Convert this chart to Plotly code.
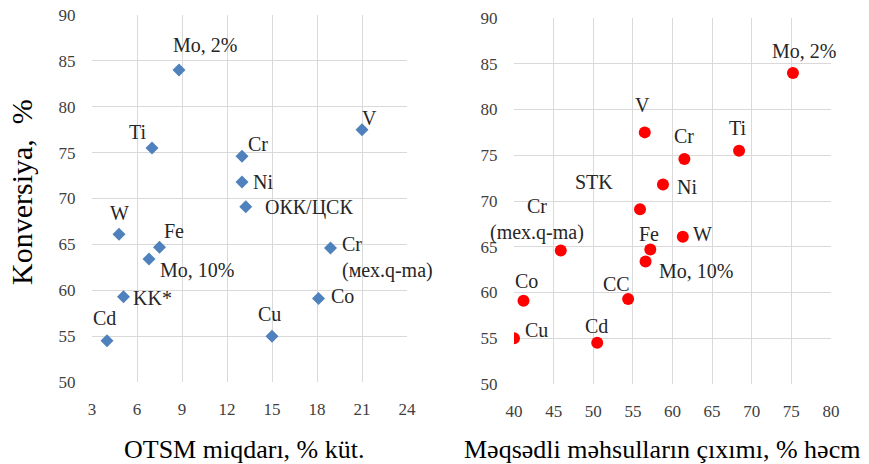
import plotly.graph_objects as go

# Conversion (%) for each catalyst composition, shared by both panels
conversion = [84.0, 75.5, 74.6, 71.8, 69.1, 77.5, 66.1, 64.7, 63.4, 59.3, 54.5, 55.0, 59.1, 64.6]

# Left panel: OTSM content, % wt.
otsm_content = [8.8, 7.0, 13.0, 13.0, 13.25, 21.0, 4.8, 7.5, 6.8, 5.1, 4.0, 15.0, 18.1, 18.9]
labels_left = ["Mo, 2%", "Ti", "Cr", "Ni", "ОКК/ЦСК", "V", "W", "Fe", "Mo, 10%", "KK*",
               "Cd", "Cu", "Co", "Cr<br>(мех.q-ma)"]

# Right panel: target product yield, % vol.
product_yield = [75.2, 68.4, 61.5, 58.8, 55.9, 56.5, 61.3, 57.2, 56.6, 54.4, 50.5, 40.0, 41.2, 45.9]
labels_right = ["Mo, 2%", "Ti", "Cr", "Ni", "STK", "V", "W", "Fe", "Mo, 10%", "CC",
                "Cd", "Cu", "Co", "Cr<br>(mex.q-ma)"]

x_ticks_left = [3, 6, 9, 12, 15, 18, 21, 24]
x_ticks_right = [40, 45, 50, 55, 60, 65, 70, 75, 80]
y_ticks = [50, 55, 60, 65, 70, 75, 80, 85, 90]

# Label offsets in pixels (dx right, dy up) relative to each marker
offsets_left = [(26, 25), (-14, 16), (16, 12), (21, 0), (63, -1), (7, 12), (0, 21), (14, 16),
                (48, -11), (29, -1), (-3, 23), (-3, 22), (24, 3), (57, -9)]
offsets_right = [(11, 22), (-1, 23), (0, 23), (24, -2), (-46, 27), (-2, 27), (20, 3), (-1, 16),
                 (50, -10), (-12, 15), (-1, 17), (22, 8), (3, 20), (-24, 31)]

W, H = 869, 464
SERIF = "Liberation Serif"
TICK_COLOR = "#404040"
LABEL_COLOR = "#262626"
GRID = "#d9d9d9"

fig = go.Figure()
fig.add_trace(go.Scatter(
    x=otsm_content, y=conversion, mode="markers",
    marker=dict(symbol="diamond", size=10, color="#4f81bd"),
    xaxis="x", yaxis="y", showlegend=False, hoverinfo="skip"))
fig.add_trace(go.Scatter(
    x=product_yield, y=conversion, mode="markers",
    marker=dict(symbol="circle", size=12, color="#ff0000"),
    xaxis="x2", yaxis="y2", showlegend=False, hoverinfo="skip"))

annotations = []
for xs, txts, offs, xr, yr, ali in [
    (otsm_content, labels_left, offsets_left, "x", "y", "left"),
    (product_yield, labels_right, offsets_right, "x2", "y2", "center"),
]:
    for xv, yv, t, (dx, dy) in zip(xs, conversion, txts, offs):
        annotations.append(dict(
            x=xv, y=yv, xref=xr, yref=yr, text=t, showarrow=False,
            xanchor="center", yanchor="middle",
            xshift=dx, yshift=dy, align=ali if "<br>" in t else "center",
            font=dict(family=SERIF, size=20, color=LABEL_COLOR)))

# Axis titles
title_font = dict(family=SERIF, size=26, color="#000000")
annotations.append(dict(x=22 / W, y=1 - 192 / H, xref="paper", yref="paper",
                        xanchor="center", yanchor="middle",
                        text="Konversiya,  %", textangle=-90, showarrow=False,
                        font=dict(family=SERIF, size=30, color="#000000")))
annotations.append(dict(x=244 / W, y=1 - 449 / H, xref="paper", yref="paper",
                        xanchor="center", yanchor="middle",
                        text="OTSM miqdarı, % küt.", showarrow=False, font=title_font))
annotations.append(dict(x=662 / W, y=1 - 449 / H, xref="paper", yref="paper",
                        xanchor="center", yanchor="middle",
                        text="Məqsədli məhsulların çıxımı, % həcm", showarrow=False,
                        font=title_font))

axis_common = dict(showgrid=True, gridcolor=GRID, gridwidth=1, zeroline=False,
                   showline=False, ticks="outside", ticklen=12, automargin=False,
                   tickcolor="rgba(0,0,0,0)",
                   tickfont=dict(family=SERIF, size=17, color=TICK_COLOR))

fig.update_layout(
    width=W, height=H,
    margin=dict(l=0, r=0, t=0, b=0, pad=0),
    font=dict(family=SERIF),
    paper_bgcolor="white", plot_bgcolor="white",
    xaxis=dict(domain=[92 / W, 407 / W], range=[3, 24], tickvals=x_ticks_left,
               anchor="y", **axis_common),
    yaxis=dict(domain=[1 - 382 / H, 1 - 15 / H], range=[50, 90], tickvals=y_ticks,
               anchor="x", **axis_common),
    xaxis2=dict(domain=[514 / W, 831 / W], range=[40, 80], tickvals=x_ticks_right,
                anchor="y2", **axis_common),
    yaxis2=dict(domain=[1 - 384 / H, 1 - 18 / H], range=[50, 90], tickvals=y_ticks,
                anchor="x2", **axis_common),
    annotations=annotations,
)

fig.write_html("out.html")
